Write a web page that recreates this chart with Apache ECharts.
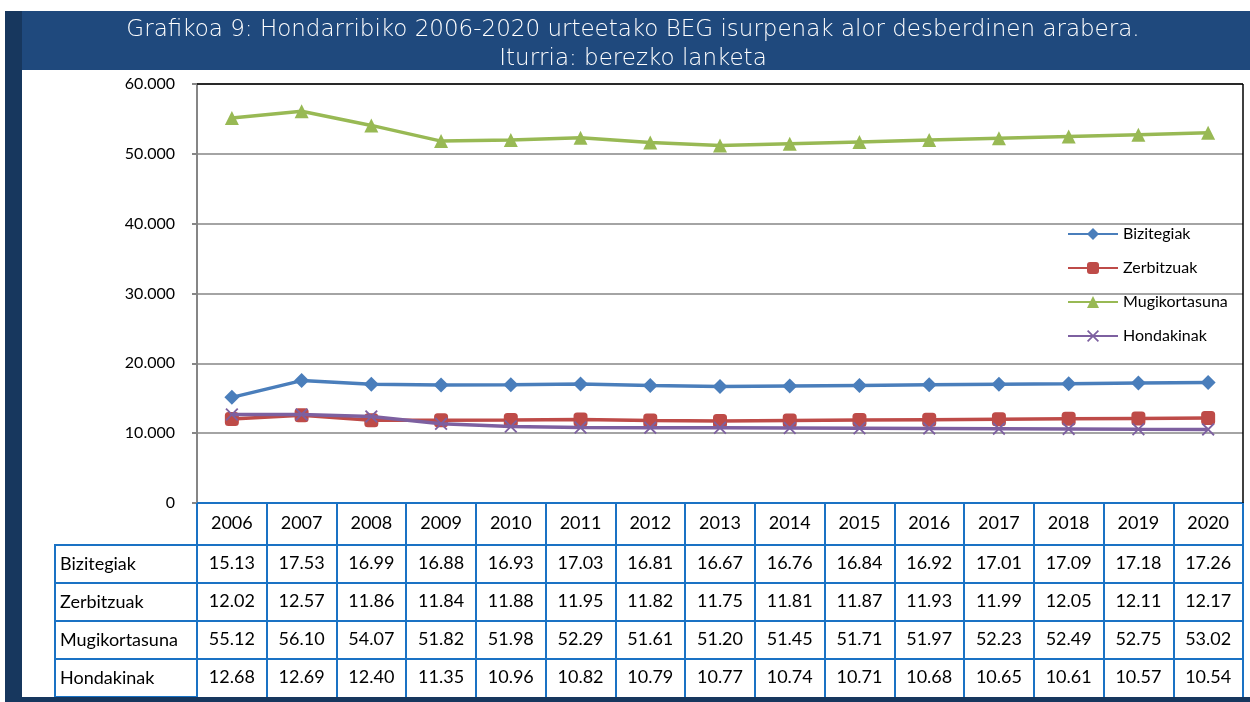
<!DOCTYPE html>
<html><head><meta charset="utf-8">
<style>html,body{margin:0;padding:0;background:#fff;}#c{width:1250px;height:702px;}</style>
<script src="https://cdn.jsdelivr.net/npm/echarts@6/dist/echarts.min.js"></script>
</head><body><div id="c"></div>
<script>
const years = ['2006','2007','2008','2009','2010','2011','2012','2013','2014','2015','2016','2017','2018','2019','2020'];
const seriesNames = ['Bizitegiak','Zerbitzuak','Mugikortasuna','Hondakinak'];
const bizitegiak   = [15.13,17.53,16.99,16.88,16.93,17.03,16.81,16.67,16.76,16.84,16.92,17.01,17.09,17.18,17.26];
const zerbitzuak   = [12.02,12.57,11.86,11.84,11.88,11.95,11.82,11.75,11.81,11.87,11.93,11.99,12.05,12.11,12.17];
const mugikortasuna= [55.12,56.10,54.07,51.82,51.98,52.29,51.61,51.20,51.45,51.71,51.97,52.23,52.49,52.75,53.02];
const hondakinak   = [12.68,12.69,12.40,11.35,10.96,10.82,10.79,10.77,10.74,10.71,10.68,10.65,10.61,10.57,10.54];
const titleText = 'Grafikoa 9: Hondarribiko 2006-2020 urteetako BEG isurpenak alor desberdinen arabera.\nIturria: berezko lanketa';

const allData = [bizitegiak, zerbitzuak, mugikortasuna, hondakinak];
const colors = ['#4a7ebb','#be4b48','#98b954','#7d60a0'];
const symbols = ['diamond','roundRect','triangle','path://M2,0 L10,8 L18,0 L20,2 L12,10 L20,18 L18,20 L10,12 L2,20 L0,18 L8,10 L0,2 Z'];
const symSizes = [15,14,14,13];

const FONT = 'Lato';
const BLUE = '#1a72c4';
const gridLeft = 197, gridRight = 1243, gridTop = 84, gridBottom = 503;
const headerH = 42, rowH = 38;

const xAxes = [{
  type:'category', data: years, gridIndex:0, position:'bottom', boundaryGap:true,
  axisLine:{lineStyle:{color:BLUE,width:2}},
  axisTick:{show:true,inside:false,length:headerH,interval:0,lineStyle:{color:BLUE,width:2}},
  axisLabel:{color:'#000',fontFamily:FONT,fontSize:18,margin:11,interval:0},
  splitLine:{show:false}
}];
allData.forEach((arr,i)=>{
  xAxes.push({
    type:'category', data: arr.map(v=>v.toFixed(2)), gridIndex:0, position:'bottom',
    offset: headerH + rowH*i, boundaryGap:true,
    axisLine:{lineStyle:{color:BLUE,width:2}},
    axisTick:{show:true,inside:false,length:rowH,interval:0,lineStyle:{color:BLUE,width:2}},
    axisLabel:{color:'#000',fontFamily:FONT,fontSize:18,margin:9,interval:0},
    splitLine:{show:false}
  });
});

const graphics = [
  {type:'rect',shape:{x:22,y:11,width:1228,height:59},style:{fill:'#1f497d'},z:-1},
  {type:'rect',shape:{x:5,y:11,width:17,height:691},style:{fill:'#17375e'},z:-1},
  {type:'rect',shape:{x:5,y:697,width:1245,height:5},style:{fill:'#17375e'},z:10},
  {type:'line',shape:{x1:gridLeft,y1:gridTop,x2:gridRight,y2:gridTop},style:{stroke:'#000',lineWidth:1.5},z:5},
  {type:'line',shape:{x1:gridRight,y1:gridTop,x2:gridRight,y2:gridBottom},style:{stroke:'#000',lineWidth:1.5},z:5}
];
seriesNames.forEach((n,i)=>{
  const y0 = gridBottom + headerH + rowH*i;
  graphics.push({type:'rect',shape:{x:55,y:y0,width:gridLeft-55,height:rowH},style:{fill:'none',stroke:BLUE,lineWidth:2},z:5});
  graphics.push({type:'text',x:60,y:y0+rowH/2,style:{text:n,fill:'#000',font:'18px '+FONT,verticalAlign:'middle'},z:6});
});

const chart = echarts.init(document.getElementById('c'));
chart.setOption({
  animation:false,
  backgroundColor:'#fff',
  title:{text:titleText,left:633,top:16,padding:0,textAlign:'center',
    textStyle:{color:'#fff',fontFamily:'DejaVu Sans',fontWeight:200,fontSize:23,lineHeight:29}},
  legend:{orient:'vertical',left:1062,top:221,itemWidth:50,itemHeight:15,itemGap:18,
    textStyle:{color:'#000',fontFamily:FONT,fontSize:16},data:seriesNames},
  grid:{left:gridLeft,right:1250-gridRight,top:gridTop,bottom:702-gridBottom,containLabel:false},
  xAxis:xAxes,
  yAxis:{type:'value',min:0,max:60,interval:10,
    axisLine:{show:true,lineStyle:{color:'#868686',width:2}},
    axisTick:{show:true,inside:false,length:5,lineStyle:{color:'#868686',width:2}},
    splitLine:{lineStyle:{color:'#868686',width:1.5}},
    axisLabel:{color:'#000',fontFamily:FONT,fontSize:16,margin:22,formatter:v=>v===0?'0':v.toFixed(3)}},
  series: seriesNames.map((n,i)=>({
    name:n,type:'line',xAxisIndex:0,data:allData[i],
    symbol:symbols[i],symbolSize:symSizes[i],showAllSymbol:true,
    lineStyle:{color:colors[i],width:3.5},itemStyle:{color:colors[i]},z:2+i
  })),
  graphic:graphics
});
</script></body></html>
